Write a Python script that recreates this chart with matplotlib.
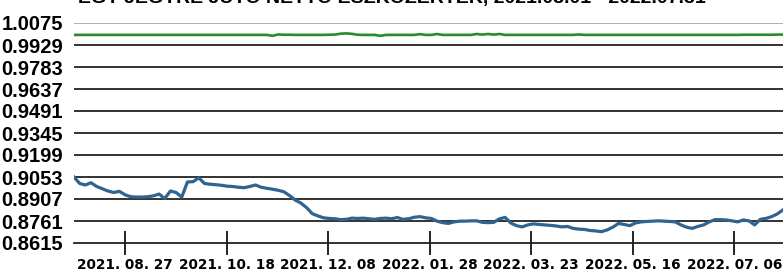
import matplotlib
matplotlib.use("Agg")
import matplotlib.pyplot as plt
import numpy as np

title = "EGY JEGYRE JUTÓ NETTÓ ESZKÖZÉRTÉK, 2021.08.01 - 2022.07.31"

y_ticks = [0.8615, 0.8761, 0.8907, 0.9053, 0.9199, 0.9345,
           0.9491, 0.9637, 0.9783, 0.9929, 1.0075]
x_tick_pos = [9, 26.9, 44.8, 62.7, 80.6, 98.5, 116.4]
x_tick_labels = ["2021. 08. 27", "2021. 10. 18", "2021. 12. 08", "2022. 01. 28",
                 "2022. 03. 23", "2022. 05. 16", "2022. 07. 06"]

# fund NAV per unit (blue)
nav_fund = [
    0.9053, 0.9010, 0.9000, 0.9015, 0.8990, 0.8975, 0.8960, 0.8950, 0.8958, 0.8935,
    0.8922, 0.8920, 0.8920, 0.8922, 0.8928, 0.8940, 0.8910, 0.8960, 0.8950, 0.8920,
    0.9020, 0.9022, 0.9048, 0.9010, 0.9005, 0.9002, 0.8998, 0.8992, 0.8990, 0.8985,
    0.8982, 0.8990, 0.9000, 0.8985, 0.8978, 0.8972, 0.8965, 0.8955, 0.8930, 0.8900,
    0.8880, 0.8850, 0.8810, 0.8795, 0.8782, 0.8778, 0.8776, 0.8770, 0.8772, 0.8780,
    0.8778, 0.8780, 0.8776, 0.8772, 0.8778, 0.8780, 0.8776, 0.8784, 0.8772, 0.8776,
    0.8786, 0.8790, 0.8782, 0.8778, 0.8760, 0.8750, 0.8745, 0.8755, 0.8760, 0.8760,
    0.8762, 0.8762, 0.8752, 0.8750, 0.8752, 0.8775, 0.8785, 0.8748, 0.8730, 0.8722,
    0.8735, 0.8742, 0.8738, 0.8735, 0.8732, 0.8728, 0.8722, 0.8725, 0.8712, 0.8707,
    0.8705, 0.8698, 0.8695, 0.8690, 0.8702, 0.8720, 0.8745, 0.8738, 0.8730, 0.8748,
    0.8755, 0.8758, 0.8760, 0.8762, 0.8760, 0.8758, 0.8755, 0.8735, 0.8720, 0.8712,
    0.8725, 0.8735, 0.8755, 0.8770, 0.8770, 0.8768, 0.8762, 0.8755, 0.8768, 0.8762,
    0.8735, 0.8772, 0.8778, 0.8790, 0.8808, 0.8835,
]

# second series (green), almost flat
nav_other = [
    0.9996, 0.9996, 0.9996, 0.9996, 0.9996, 0.9996, 0.9996, 0.9996, 0.9996, 0.9996,
    0.9996, 0.9996, 0.9996, 0.9996, 0.9996, 0.9996, 0.9996, 0.9996, 0.9996, 0.9996,
    0.9996, 0.9996, 0.9996, 0.9996, 0.9996, 0.9996, 0.9996, 0.9996, 0.9996, 0.9996,
    0.9996, 0.9996, 0.9996, 0.9996, 0.9996, 0.9990, 0.9999, 0.9997, 0.9997, 0.9996,
    0.9996, 0.9996, 0.9996, 0.9996, 0.9996, 0.9997, 0.9998, 1.0004, 1.0006, 1.0003,
    0.9997, 0.9996, 0.9996, 0.9996, 0.9990, 0.9996, 0.9996, 0.9996, 0.9996, 0.9996,
    0.9996, 1.0001, 0.9996, 0.9996, 1.0002, 0.9996, 0.9996, 0.9996, 0.9996, 0.9996,
    0.9996, 1.0002, 0.9998, 1.0002, 0.9998, 1.0002, 0.9996, 0.9996, 0.9996, 0.9996,
    0.9996, 0.9996, 0.9996, 0.9996, 0.9996, 0.9996, 0.9996, 0.9996, 0.9996, 0.9999,
    0.9996, 0.9996, 0.9996, 0.9996, 0.9996, 0.9996, 0.9996, 0.9996, 0.9996, 0.9996,
    0.9996, 0.9996, 0.9996, 0.9996, 0.9996, 0.9996, 0.9996, 0.9996, 0.9996, 0.9996,
    0.9996, 0.9996, 0.9996, 0.9996, 0.9996, 0.9996, 0.9996, 0.9996, 0.9997, 0.9997,
    0.9997, 0.9997, 0.9997, 0.9997, 0.9998, 0.9998,
]

plt.rcParams["font.family"] = ["Liberation Sans", "DejaVu Sans"]

fig = plt.figure(figsize=(7.83, 2.73), dpi=100)
ax = fig.add_axes([74 / 783, 1 - 243 / 273, 1 - 74 / 783, 220 / 273])

x = np.arange(len(nav_fund))
for yv in y_ticks[1:-1]:
    ax.axhline(yv, color="#222222", lw=1.3, zorder=1)
ax.axhline(y_ticks[-1], color="#aaaaaa", lw=1.3, zorder=1)

ax.plot(x, nav_other, color="#2a8a2a", lw=1.9, zorder=3)
ax.plot(x, nav_fund, color="#2f6390", lw=2.3, zorder=3)

ax.set_xlim(0, len(nav_fund) - 1)
ax.set_ylim(y_ticks[0], y_ticks[-1])
ax.set_yticks(y_ticks)
ax.set_yticklabels([f"{v:.4f}" for v in y_ticks], fontsize=14.5, fontweight="bold")
ax.set_xticks(x_tick_pos)
ax.set_xticklabels(x_tick_labels, fontsize=9.8, fontweight="bold",
                   family=["DejaVu Sans"])
ax.tick_params(axis="y", length=0, pad=8)
ax.tick_params(axis="x", direction="inout", length=17, width=1.2, pad=2.5)

for side in ["top", "right", "left"]:
    ax.spines[side].set_visible(False)
ax.spines["bottom"].set_linewidth(1.3)
ax.spines["bottom"].set_color("#222222")

fig.text(0.5, 1 - 3.5 / 273, title, ha="center", va="baseline",
         fontsize=14, fontweight="bold")

fig.savefig("out.png", dpi=100)
